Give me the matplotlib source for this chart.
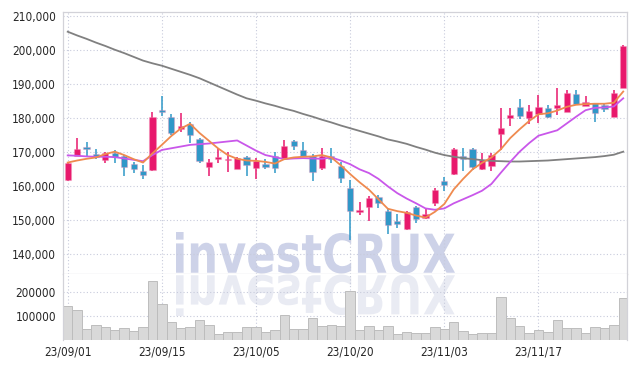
import matplotlib
matplotlib.use('Agg')
import matplotlib.pyplot as plt
import numpy as np
from matplotlib import font_manager as fm
from matplotlib.textpath import TextPath
from matplotlib.patches import PathPatch
from matplotlib.font_manager import FontProperties
from matplotlib.transforms import Affine2D

# ---------------- data ----------------
dates = ['23/09/01', '23/09/04', '23/09/05', '23/09/06', '23/09/07', '23/09/08',
         '23/09/11', '23/09/12', '23/09/13', '23/09/14', '23/09/15',
         '23/09/18', '23/09/19', '23/09/20', '23/09/21', '23/09/22',
         '23/09/25', '23/09/26', '23/09/27', '23/10/04', '23/10/05', '23/10/06',
         '23/10/10', '23/10/11', '23/10/12', '23/10/13',
         '23/10/16', '23/10/17', '23/10/18', '23/10/19', '23/10/20',
         '23/10/23', '23/10/24', '23/10/25', '23/10/26', '23/10/27',
         '23/10/30', '23/10/31', '23/11/01', '23/11/02', '23/11/03',
         '23/11/06', '23/11/07', '23/11/08', '23/11/09', '23/11/10',
         '23/11/13', '23/11/14', '23/11/15', '23/11/16', '23/11/17',
         '23/11/20', '23/11/21', '23/11/22', '23/11/23', '23/11/24',
         '23/11/27', '23/11/28', '23/11/29', '23/11/30']

opens = [161700, 168800, 171500, 169400, 167500, 169500, 168700, 166400, 164400, 164600,
         182400, 180100, 176800, 178000, 173700, 165600, 167900, 167500, 165000, 168500,
         165300, 166300, 168700, 168200, 173200, 170500, 168700, 165300, 168700, 165800,
         159400, 152200, 153800, 156800, 152400, 149600, 147100, 153700, 150400, 154800,
         161400, 163400, 168700, 170700, 164900, 165900, 175100, 179800, 183200, 180000,
         181200, 182800, 182900, 181800, 186900, 183500, 184200, 183700, 180300, 188800]
highs = [166900, 173900, 172700, 170700, 170000, 170500, 169000, 167100, 166000, 181600,
         186500, 181000, 181300, 178600, 174000, 167800, 171000, 170000, 168400, 168800,
         168100, 167800, 170000, 173300, 173300, 172900, 169200, 171200, 171000, 166900,
         161700, 155100, 157000, 157300, 153300, 151600, 152400, 154100, 153500, 159400,
         162600, 171000, 171000, 171200, 169700, 169700, 182800, 182800, 185400, 183700,
         186700, 183700, 188600, 188100, 188100, 186400, 184400, 184200, 188100, 201300]
lows = [161500, 168600, 168500, 167800, 166600, 166600, 162900, 163800, 162100, 164400,
        180400, 174900, 175900, 172600, 166600, 162900, 166800, 163900, 164800, 162700,
        162000, 164800, 163600, 168000, 170400, 168300, 161400, 164600, 166800, 160700,
        144100, 151400, 149600, 153500, 145700, 147500, 146900, 149000, 150200, 154100,
        158400, 163200, 164300, 164600, 164700, 164300, 170500, 177600, 179600, 178100,
        178400, 179800, 180800, 181600, 183700, 183300, 178600, 181800, 180100, 188600]
closes = [166700, 170800, 170900, 168300, 169700, 168500, 165600, 165000, 163200, 180300,
          181800, 175600, 177600, 174900, 167400, 166900, 168400, 167800, 168200, 166100,
          167300, 165600, 165300, 171800, 171800, 168700, 164100, 168700, 167800, 162200,
          152600, 152900, 156500, 154800, 148300, 148800, 152200, 150200, 151600, 158800,
          160200, 170700, 167800, 165600, 167600, 169000, 176900, 180800, 180600, 182000,
          183000, 180300, 183700, 187200, 183900, 184500, 181300, 182600, 187200, 201200]
volumes = [141700, 125000, 44600, 61200, 52900, 41700, 48700, 37500, 52900, 247100,
           148700, 73700, 48700, 52900, 82000, 61200, 23700, 32000, 32000, 52900,
           52900, 32000, 40300, 102800, 44600, 44600, 90300, 56800, 61200, 58300,
           204200, 41700, 58300, 41700, 58300, 25000, 33300, 29200, 29200, 52900,
           45800, 75000, 38900, 25000, 29200, 29200, 177800, 93100, 58300, 29200,
           41700, 34700, 83300, 50000, 50000, 29200, 54200, 50000, 62500, 173800]
ma_short = [166800, 167400, 167900, 168300, 169300, 170000, 169000, 167800, 166800, 169500,
            172000, 174600, 176800, 178200, 175500, 173200, 170900, 169000, 167900, 167400,
            167300, 167000, 166500, 167800, 168300, 168500, 168600, 169000, 168300, 166000,
            163400, 161000, 158800, 156000, 153200, 152500, 152000, 151200, 150600, 152300,
            154600, 158900, 162000, 164800, 166700, 168300, 170700, 174000, 176600, 179000,
            181000, 181300, 182100, 183200, 183800, 184000, 184100, 184100, 184400, 187700]
ma_mid = [168900, 168800, 168600, 168500, 168500, 168400, 168000, 167600, 167200, 169000,
          170500, 171000, 171500, 172000, 172200, 172400, 172700, 173000, 173300, 171800,
          170300, 169000, 168400, 167800, 168000, 168100, 168000, 167900, 168300, 167400,
          166300, 164800, 163700, 162000, 159800, 157800, 156200, 154800, 153300, 152900,
          153300, 154800, 156000, 157200, 158500, 160500, 163800, 167000, 170000, 172500,
          174700, 175500, 176300, 178300, 180300, 182200, 182900, 183000, 183300, 185700]
ma_long = [205300, 204200, 203200, 202100, 201100, 200000, 199000, 197900, 196800, 196000,
           195300, 194400, 193500, 192600, 191600, 190400, 189200, 188000, 186800, 185700,
           185000, 184200, 183500, 182700, 182000, 181100, 180300, 179400, 178600, 177700,
           176900, 176100, 175300, 174500, 173600, 173000, 172300, 171400, 170600, 169700,
           169000, 168500, 168100, 167800, 167500, 167300, 167200, 167100, 167100, 167200,
           167300, 167400, 167600, 167800, 168000, 168200, 168400, 168700, 169100, 170000]
price_ticks = [140000, 150000, 160000, 170000, 180000, 190000, 200000, 210000]
volume_ticks = [100000, 200000]
watermark = 'investCRUX'

# ---------------- fonts ----------------
names = {f.name for f in fm.fontManager.ttflist}
cond = any(f.name == 'DejaVu Sans' and 'condensed' in str(f.stretch) for f in fm.fontManager.ttflist)
if 'Liberation Sans Narrow' in names:
    LABEL_FONT = dict(family='Liberation Sans Narrow', fontweight='bold', fontsize=9.5)
elif cond:
    LABEL_FONT = dict(family='DejaVu Sans', fontstretch='condensed', fontsize=8.5)
else:
    LABEL_FONT = dict(family='DejaVu Sans', fontsize=8)

UP = '#e8186c'
DOWN = '#2f98c8'
GRID = '#c8cbdc'
SPINE = '#d2d2d8'
TXT = '#262626'

W, H = 636, 368
fig = plt.figure(figsize=(W / 100, H / 100), dpi=100)
fig.patch.set_facecolor('white')


def rect(l, t, r, b):
    return [l / W, 1 - b / H, (r - l) / W, (b - t) / H]


ax = fig.add_axes(rect(63, 12, 627, 274))
axv = fig.add_axes(rect(63, 274, 627, 340), sharex=ax)

n = len(closes)
x = np.arange(n)
o = np.array(opens, float)
c = np.array(closes, float)
hi = np.array(highs, float)
lo = np.array(lows, float)
cols = [UP if c[i] >= o[i] else DOWN for i in range(n)]

# watermark (main + reflection)
tp = TextPath((0, 0), watermark, size=100, prop=FontProperties(family='DejaVu Sans', weight='bold'))
bb = tp.get_extents()
sx = (455 - 176) / bb.width
sy = (273.5 - 232) / bb.height
tr_main = Affine2D().translate(-bb.x0, -bb.y0).scale(sx, sy).translate(176, H - 273.5)
tr_refl = Affine2D().translate(-bb.x0, -bb.y0).scale(sx, -sy).translate(176, H - 274.5)
ax.add_patch(PathPatch(tp, transform=tr_main, facecolor='#cdd2e8', edgecolor='none', zorder=0.2))
axv.add_patch(PathPatch(tp, transform=tr_refl, facecolor='#e9ebf3', edgecolor='none', zorder=0.2))

# candles
ax.vlines(x, lo, hi, colors=cols, linewidth=1.1, zorder=2)
body = np.maximum(np.abs(c - o), 250)
ax.bar(x, body, bottom=np.minimum(o, c), width=0.66, color=cols,
       edgecolor=[(0.95, 0.55, 0.7, 0.35)] * n, linewidth=0.8, zorder=3)

ax.plot(x, ma_long, color='#808080', linewidth=1.3, zorder=4)
ax.plot(x, ma_mid, color='#c957ea', linewidth=1.3, zorder=4)
ax.plot(x, ma_short, color='#ef8a4f', linewidth=1.3, zorder=5)

ax.set_xlim(-0.5, 59.4)
ax.set_ylim(134000, 211100)
ax.set_yticks(price_ticks)
ax.set_yticklabels([f'{v:,}' for v in price_ticks])
ax.set_xticks(range(0, n, 10))
ax.tick_params(axis='x', labelbottom=False, length=0)
ax.tick_params(axis='y', length=0, pad=5, colors=TXT)
ax.set_axisbelow(True)
ax.grid(True, color=GRID, linestyle=(0, (1, 2)), linewidth=0.8)

# volume
axv.bar(x, volumes, width=1.0, color='#d9d9d9', edgecolor='#bdbdbd', linewidth=0.7, zorder=2)
axv.set_ylim(0, 275000)
axv.set_yticks(volume_ticks)
axv.set_yticklabels([str(v) for v in volume_ticks])
axv.set_xticks(range(0, n, 10))
axv.set_xticklabels(dates[::10])
axv.tick_params(length=0, colors=TXT)
axv.tick_params(axis='y', pad=5)
axv.tick_params(axis='x', pad=4)
axv.set_axisbelow(True)
axv.grid(True, color=GRID, linestyle=(0, (1, 2)), linewidth=0.8)

for a in (ax, axv):
    for lab in a.get_xticklabels() + a.get_yticklabels():
        lab.set(**LABEL_FONT)
    for s in a.spines.values():
        s.set_color(SPINE)
        s.set_linewidth(0.9)
axv.spines['top'].set_visible(False)
axv.spines['bottom'].set_visible(False)

fig.savefig('out.png', dpi=100, facecolor='white')
